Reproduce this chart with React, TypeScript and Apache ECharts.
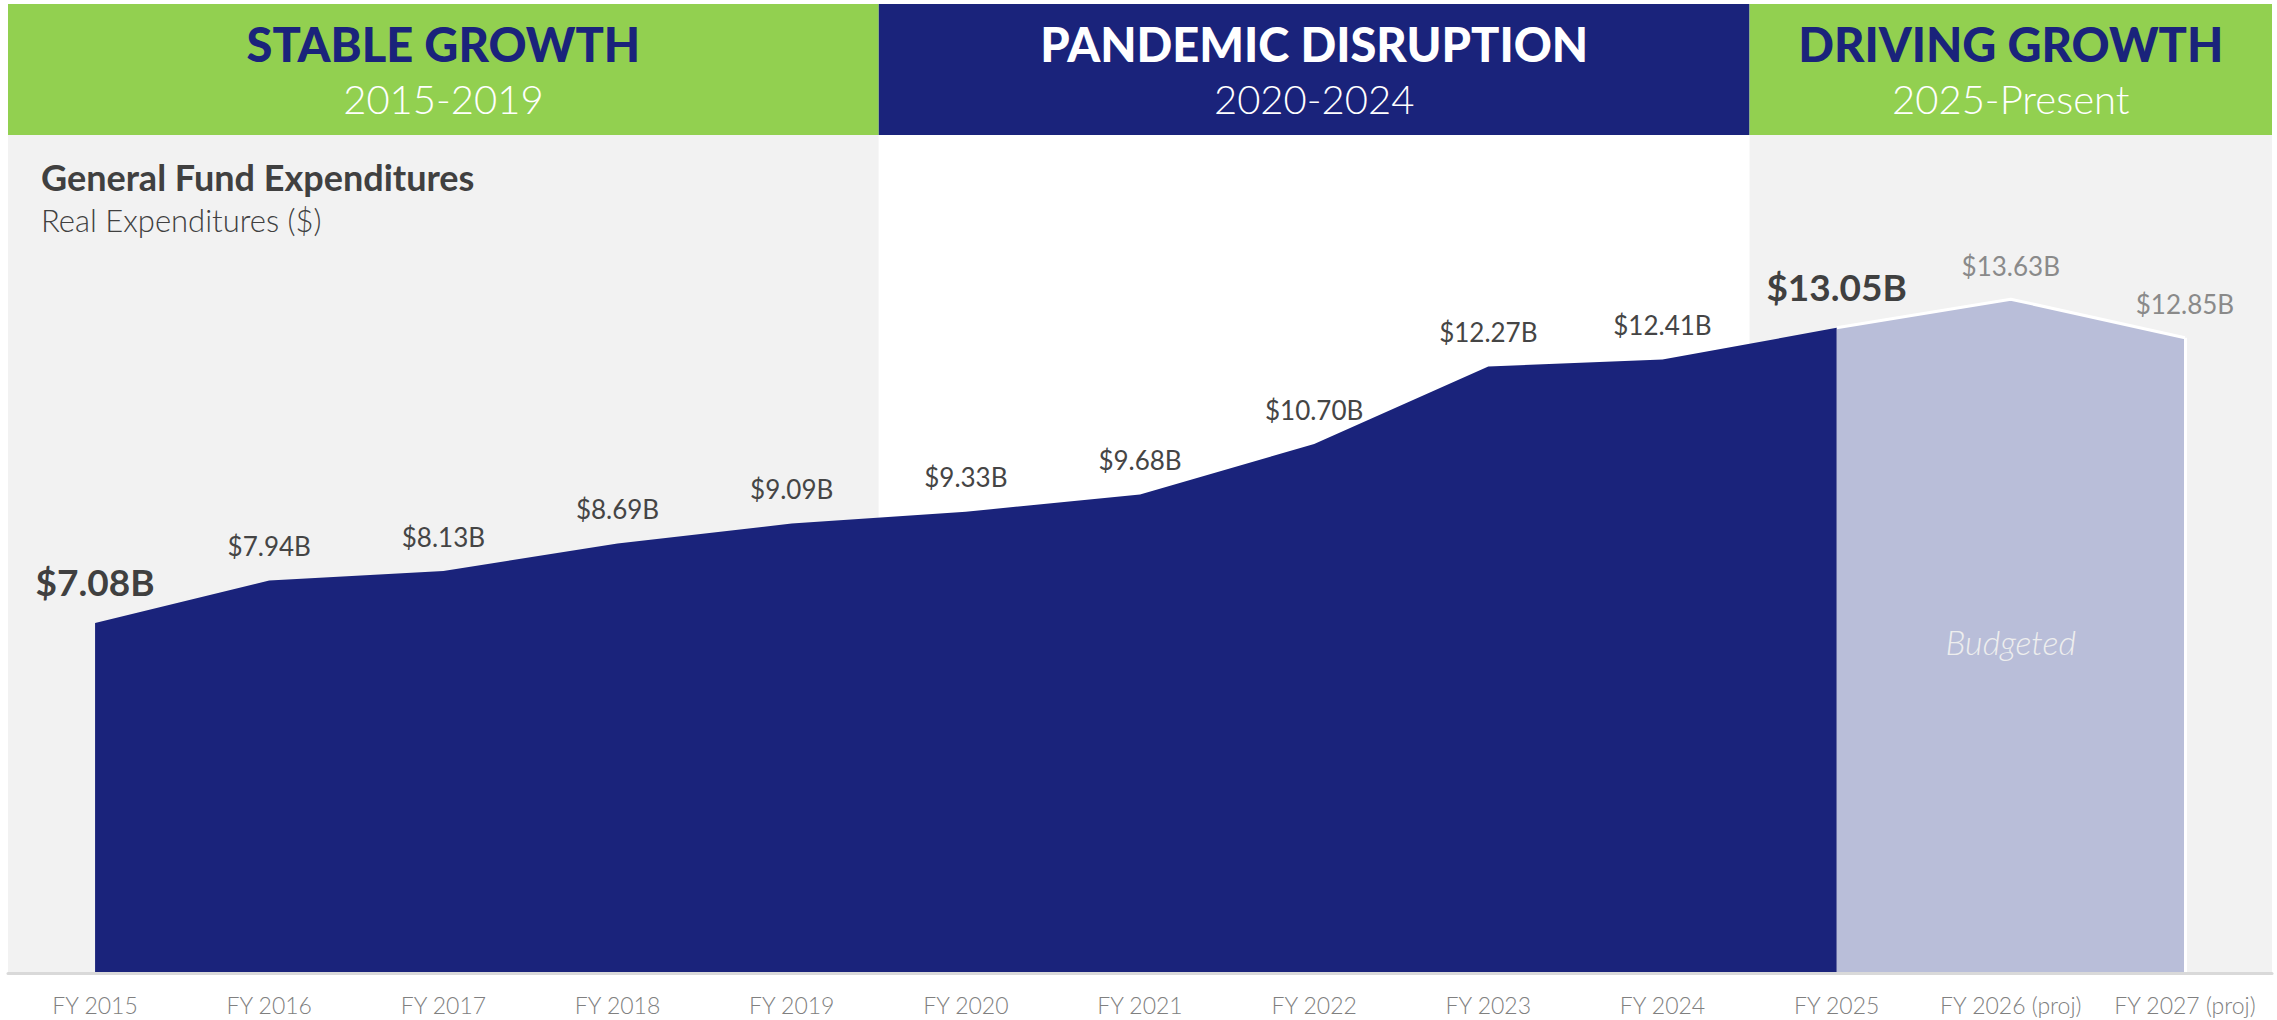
import { useEffect, useRef } from "react";
import * as echarts from "echarts";

const categories = [
  "FY 2015", "FY 2016", "FY 2017", "FY 2018", "FY 2019", "FY 2020", "FY 2021",
  "FY 2022", "FY 2023", "FY 2024", "FY 2025", "FY 2026 (proj)", "FY 2027 (proj)",
];
const actualValues = [7.08, 7.94, 8.13, 8.69, 9.09, 9.33, 9.68, 10.7, 12.27, 12.41, 13.05, null, null];
const budgetValues = [null, null, null, null, null, null, null, null, null, null, 13.05, 13.63, 12.85];
const highlightIndexes = [0, 10];

const eraTitles = ["STABLE GROWTH", "PANDEMIC DISRUPTION", "DRIVING GROWTH"];
const eraYears = ["2015-2019", "2020-2024", "2025-Present"];
const eraStart = [0, 5, 10];
const eraEnd = [4, 9, 12];

const chartTitle = "General Fund Expenditures";
const chartSubtitle = "Real Expenditures ($)";
const budgetNote = "Budgeted";

const NAVY = "#1a237b";
const GREEN = "#92d050";
const PANEL = "#f2f2f2";
const FONT = "Lato, 'Open Sans', sans-serif";

const fmt = (v: number) => `$${v.toFixed(2)}B`;

export default function App() {
  const ref = useRef<HTMLDivElement>(null);
  useEffect(() => {
    const el = ref.current!;
    const chart = echarts.init(el, null, { renderer: "svg" });
    const option: any = {
      animation: false,
      backgroundColor: "#ffffff",
      grid: { left: 8, width: 2264, top: 182, height: 791, containLabel: false },
      xAxis: {
        type: "category",
        data: categories,
        boundaryGap: true,
        z: 6,
        axisLine: { show: true, lineStyle: { color: "#d9d9d9", width: 3 } },
        axisTick: { show: false },
        axisLabel: { color: "#808080", fontSize: 23, fontFamily: FONT, fontWeight: 300, margin: 20, interval: 0 },
        splitLine: { show: false },
      },
      yAxis: { type: "value", min: 0, max: 16, show: false, splitLine: { show: false } },
      series: [
        {
          type: "line",
          z: 5,
          data: actualValues.map((v, i) =>
            v == null
              ? null
              : highlightIndexes.includes(i)
              ? {
                  value: v,
                  label: { fontSize: 37, fontWeight: 700, color: "#404040", distance: 22 },
                }
              : v
          ),
          symbol: "circle",
          symbolSize: 1,
          itemStyle: { color: "rgba(0,0,0,0)" },
          lineStyle: { width: 0, color: NAVY },
          areaStyle: { color: NAVY, opacity: 1 },
          label: {
            show: true,
            position: "top",
            distance: 21,
            formatter: (p: any) => fmt(p.value),
            fontSize: 26,
            fontWeight: 400,
            fontFamily: FONT,
            color: "#454545",
          },
        },
        {
          type: "line",
          z: 4,
          data: budgetValues.map((v, i) =>
            v == null ? null : i === 10 ? { value: v, label: { show: false } } : v
          ),
          symbol: "circle",
          symbolSize: 1,
          itemStyle: { color: "rgba(0,0,0,0)" },
          lineStyle: { width: 3, color: "#ffffff" },
          areaStyle: { color: "#b9bed9", opacity: 1 },
          label: {
            show: true,
            position: "top",
            distance: 20,
            formatter: (p: any) => fmt(p.value),
            fontSize: 26,
            fontWeight: 400,
            fontFamily: FONT,
            color: "#8a8a8a",
          },
          markLine: {
            silent: true,
            symbol: "none",
            label: { show: false },
            lineStyle: { color: "#ffffff", width: 3, type: "solid" },
            data: [[{ coord: [12, 0] }, { coord: [12, budgetValues[12]] }]],
          },
        },
      ],
    };
    chart.setOption(option);

    const px = (i: number, v: number) => chart.convertToPixel({ gridIndex: 0 }, [i, v]) as number[];
    const bw = px(1, 0)[0] - px(0, 0)[0];
    const baseY = px(0, 0)[1];
    const headTop = 4;
    const headBottom = 135;
    const headerFills = [GREEN, NAVY, GREEN];
    const titleFills = [NAVY, "#ffffff", NAVY];
    const bodyFills = [PANEL, "#ffffff", PANEL];
    const graphics: any[] = [];
    for (let k = 0; k < eraTitles.length; k++) {
      const x0 = px(eraStart[k], 0)[0] - bw / 2;
      const x1 = px(eraEnd[k], 0)[0] + bw / 2;
      const cx = (x0 + x1) / 2;
      graphics.push({
        type: "rect",
        z: 0,
        shape: { x: x0, y: headBottom, width: x1 - x0, height: baseY - headBottom },
        style: { fill: bodyFills[k] },
      });
      graphics.push({
        type: "rect",
        z: 1,
        shape: { x: x0, y: headTop, width: x1 - x0, height: headBottom - headTop },
        style: { fill: headerFills[k] },
      });
      graphics.push({
        type: "text",
        z: 10,
        x: cx,
        y: 44,
        style: {
          text: eraTitles[k],
          textAlign: "center",
          textVerticalAlign: "middle",
          fill: titleFills[k],
          fontSize: 47,
          fontWeight: 900,
          fontFamily: FONT,
        },
      });
      graphics.push({
        type: "text",
        z: 10,
        x: cx,
        y: 99,
        style: {
          text: eraYears[k],
          textAlign: "center",
          textVerticalAlign: "middle",
          fill: "#ffffff",
          fontSize: 40,
          fontWeight: 300,
          fontFamily: FONT,
        },
      });
    }
    graphics.push({
      type: "text",
      z: 10,
      x: 41,
      y: 177,
      style: {
        text: chartTitle,
        textAlign: "left",
        textVerticalAlign: "middle",
        fill: "#404040",
        fontSize: 36,
        fontWeight: 700,
        fontFamily: FONT,
      },
    });
    graphics.push({
      type: "text",
      z: 10,
      x: 41,
      y: 220,
      style: {
        text: chartSubtitle,
        textAlign: "left",
        textVerticalAlign: "middle",
        fill: "#404040",
        fontSize: 31,
        fontWeight: 300,
        fontFamily: FONT,
      },
    });
    const note = px(11, 6.7);
    graphics.push({
      type: "text",
      z: 10,
      x: note[0],
      y: note[1],
      style: {
        text: budgetNote,
        textAlign: "center",
        textVerticalAlign: "middle",
        fill: "#eeeeee",
        fontSize: 34,
        fontStyle: "italic",
        fontWeight: 300,
        fontFamily: FONT,
      },
    });
    chart.setOption({ graphic: graphics });
    return () => chart.dispose();
  }, []);
  return (
    <div
      ref={ref}
      style={{ position: "fixed", left: 0, top: 0, width: 2277, height: 1020, background: "#ffffff" }}
    />
  );
}
